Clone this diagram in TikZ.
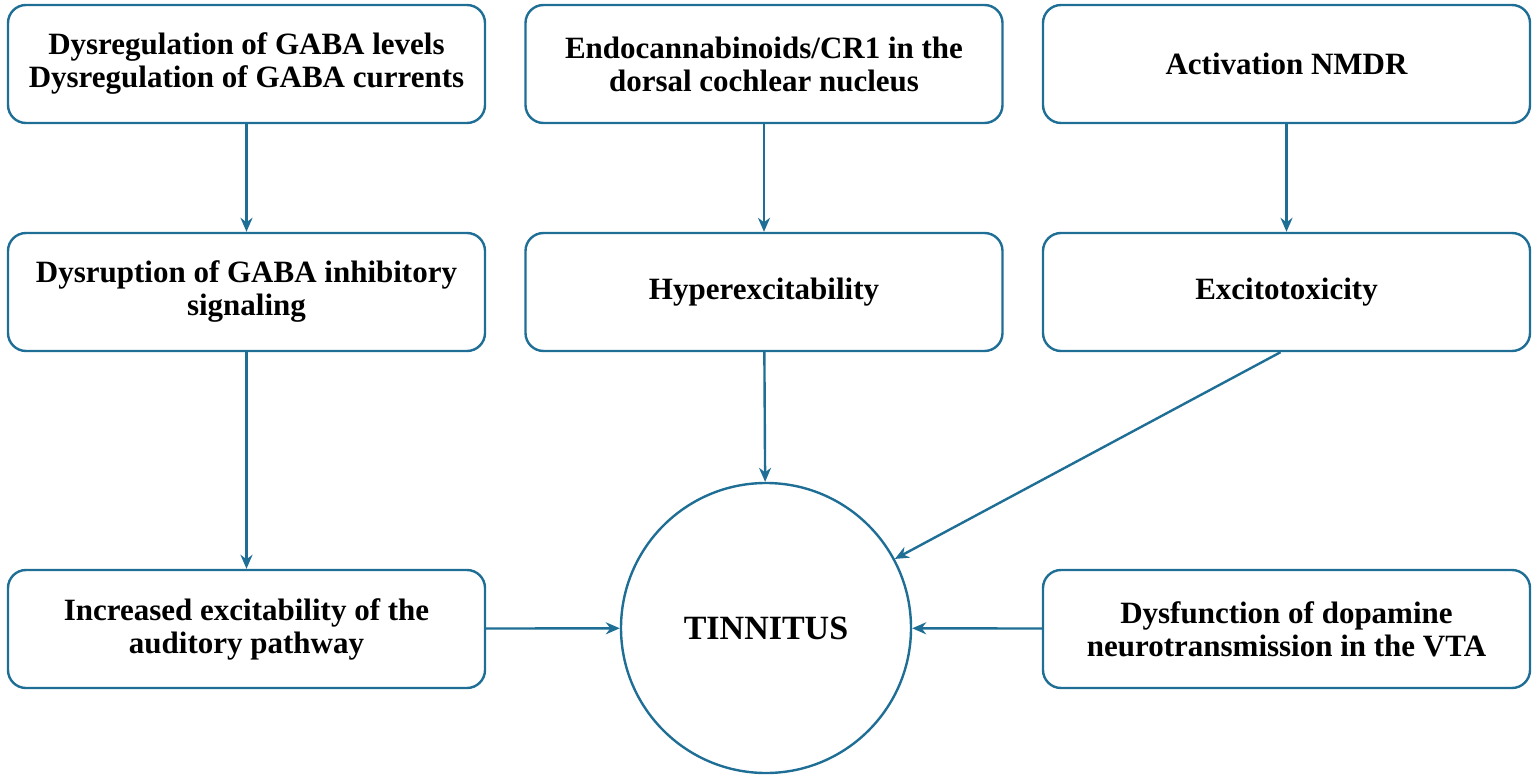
\documentclass[tikz,border=0pt]{standalone}
\usepackage{fontspec}
\setmainfont{Liberation Serif}
\usetikzlibrary{arrows.meta}
\definecolor{bl}{HTML}{1E6E95}
\begin{document}
\begin{tikzpicture}[x=0.5pt,y=-0.5pt,
 box/.style={draw=bl,line width=1.2pt,rounded corners=9pt,minimum width=238.5pt,minimum height=59pt,align=center,font=\fontsize{15.5}{16.5}\selectfont\bfseries,inner sep=0pt},
 arr/.style={draw=bl,line width=1.2pt,-{Stealth[length=7pt,width=6pt]}}]
\useasboundingbox (0,0) rectangle (1535,775);
\node[box] (a1) at (246.5,64) {Dysregulation of GABA levels\\Dysregulation of GABA currents};
\node[box] (a2) at (764,64) {Endocannabinoids/CR1 in the\\dorsal cochlear nucleus};
\node[box,minimum width=243.5pt] (a3) at (1286.5,64) {Activation NMDR};
\node[box] (b1) at (246.5,292) {Dysruption of GABA inhibitory\\signaling};
\node[box] (b2) at (764,292) {Hyperexcitability};
\node[box,minimum width=243.5pt] (b3) at (1286.5,292) {Excitotoxicity};
\node[box] (c1) at (246.5,629) {Increased excitability of the\\auditory pathway};
\node[box,minimum width=243.5pt] (c3) at (1286.5,629) {Dysfunction of dopamine\\neurotransmission in the VTA};
\node[draw=bl,line width=1.2pt,circle,minimum size=145pt,inner sep=0pt,font=\fontsize{17}{20}\selectfont\bfseries] (t) at (766,628) {TINNITUS};
\draw[arr] (a1) -- (b1);
\draw[arr] (a2) -- (b2);
\draw[arr] (a3) -- (b3);
\draw[arr] (b1) -- (c1);
\draw[arr] (b2) -- (t);
\draw[arr] (b3.south) ++(-6,0) coordinate (e) (e) -- (t);
\draw[arr] (c1) -- (t);
\draw[arr] (c3) -- (t);
\end{tikzpicture}
\end{document}
